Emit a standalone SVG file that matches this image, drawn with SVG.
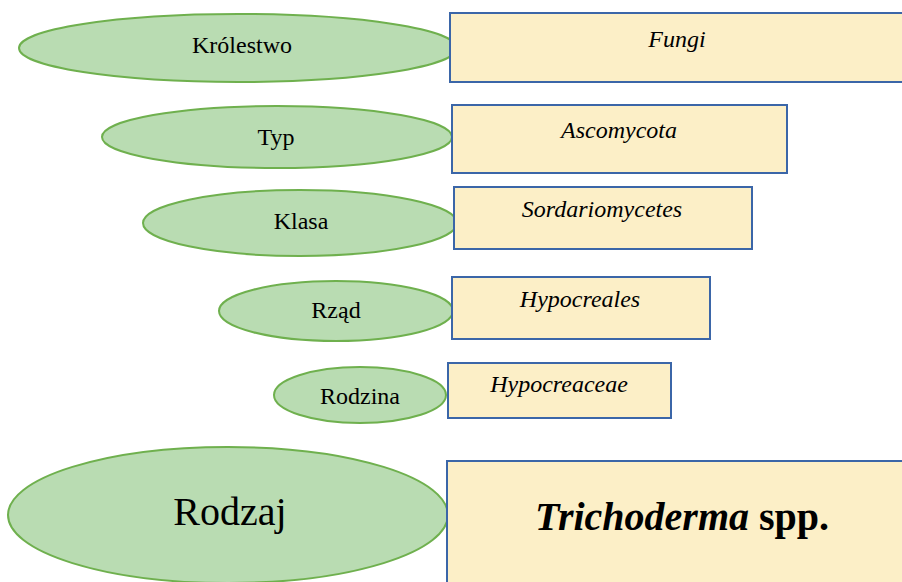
<svg xmlns="http://www.w3.org/2000/svg" width="902" height="582" viewBox="0 0 902 582">
<style>
.el{fill:#b9dcb2;stroke:#6fb04e;stroke-width:2}
.bx{fill:#fcefc7;stroke:#3b66a8;stroke-width:2}
.t{font-family:'Liberation Serif','DejaVu Serif',serif;font-size:24px;fill:#000;text-anchor:middle}
.i{font-style:italic}
.big{font-size:40px}
</style>
<rect width="902" height="582" fill="#fff"/>
<g id="rank-krolestwo"><ellipse class="el" cx="238" cy="48" rx="219" ry="34"/><text class="t" x="242" y="53">Królestwo</text></g>
<g id="taxon-fungi"><rect class="bx" x="450" y="13" width="460" height="69"/><text class="t i" x="677" y="47">Fungi</text></g>
<g id="rank-typ"><ellipse class="el" cx="277" cy="137" rx="175" ry="31"/><text class="t" x="276" y="145">Typ</text></g>
<g id="taxon-ascomycota"><rect class="bx" x="452" y="105" width="335" height="68"/><text class="t i" x="619" y="138">Ascomycota</text></g>
<g id="rank-klasa"><ellipse class="el" cx="300" cy="223" rx="157" ry="33"/><text class="t" x="301" y="229">Klasa</text></g>
<g id="taxon-sordariomycetes"><rect class="bx" x="454" y="187" width="298" height="62"/><text class="t i" x="602" y="217">Sordariomycetes</text></g>
<g id="rank-rzad"><ellipse class="el" cx="336" cy="311" rx="117" ry="30"/><text class="t" x="336" y="318">Rząd</text></g>
<g id="taxon-hypocreales"><rect class="bx" x="452" y="277" width="258" height="62"/><text class="t i" x="580" y="307">Hypocreales</text></g>
<g id="rank-rodzina"><ellipse class="el" cx="360" cy="395" rx="86" ry="28"/><text class="t" x="360" y="404">Rodzina</text></g>
<g id="taxon-hypocreaceae"><rect class="bx" x="448" y="363" width="223" height="55"/><text class="t i" x="559" y="392">Hypocreaceae</text></g>
<g id="rank-rodzaj"><ellipse class="el" cx="228" cy="515" rx="220" ry="68"/><text class="t big" x="230" y="525">Rodzaj</text></g>
<g id="taxon-trichoderma"><rect class="bx" x="447" y="461" width="470" height="140"/><text class="t big" x="682" y="530" font-weight="bold"><tspan font-style="italic">Trichoderma</tspan> spp.</text></g>
<g id="connectors"/>
</svg>
